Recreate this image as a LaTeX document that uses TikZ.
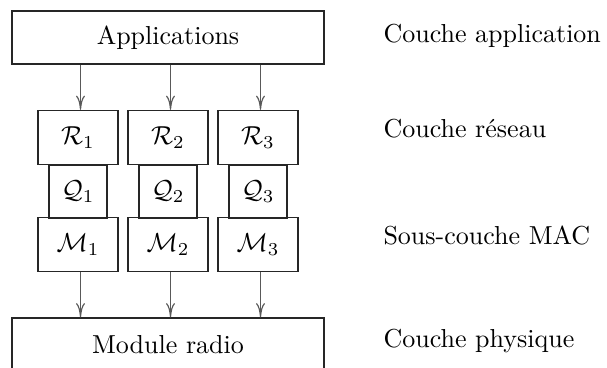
\documentclass[tikz,border=0pt]{standalone}
\usetikzlibrary{arrows.meta,calc}
\begin{document}
\begin{tikzpicture}[x=0.3846pt,y=-0.3846pt,
  box/.style={draw=black!85,line width=0.45pt,rectangle,inner sep=0pt,anchor=center},
  wide/.style={box,minimum width=312*0.3846pt,minimum height=53*0.3846pt},
  rbox/.style={box,minimum width=80*0.3846pt,minimum height=54*0.3846pt},
  qbox/.style={box,minimum width=58*0.3846pt,minimum height=53*0.3846pt},
  arr/.style={draw=black!65,line width=0.45pt,-{To[length=5.5pt,width=3.4pt]}},
  lab/.style={anchor=base west,inner sep=0pt}]
\useasboundingbox (0,0) rectangle (607,368);
\node[wide] (app) at (168,37.5) {Applications};
\node[wide] (radio) at (168,344.5) {Module radio};
\foreach \i/\x in {1/78,2/168,3/258}{
  \node[rbox] (R\i) at (\x,137.5) {$\mathcal{R}_\i$};
  \node[qbox] (Q\i) at (\x,191.5) {$\mathcal{Q}_\i$};
  \node[rbox] (M\i) at (\x,244.5) {$\mathcal{M}_\i$};
  \draw[arr] ($(R\i.north |- app.south)+(2.5,0)$) -- ($(R\i.north)+(2.5,0)$);
  \draw[arr] ($(M\i.south)+(2.5,0)$) -- ($(M\i.south |- radio.north)+(2.5,0)$);
}
\node[lab] (l1) at (383,43) {Couche application};
\node[lab] (l2) at (383,138) {Couche réseau};
\node[lab] (l3) at (383,245) {Sous-couche MAC};
\node[lab] (l4) at (383,348) {Couche physique};
\end{tikzpicture}
\end{document}
